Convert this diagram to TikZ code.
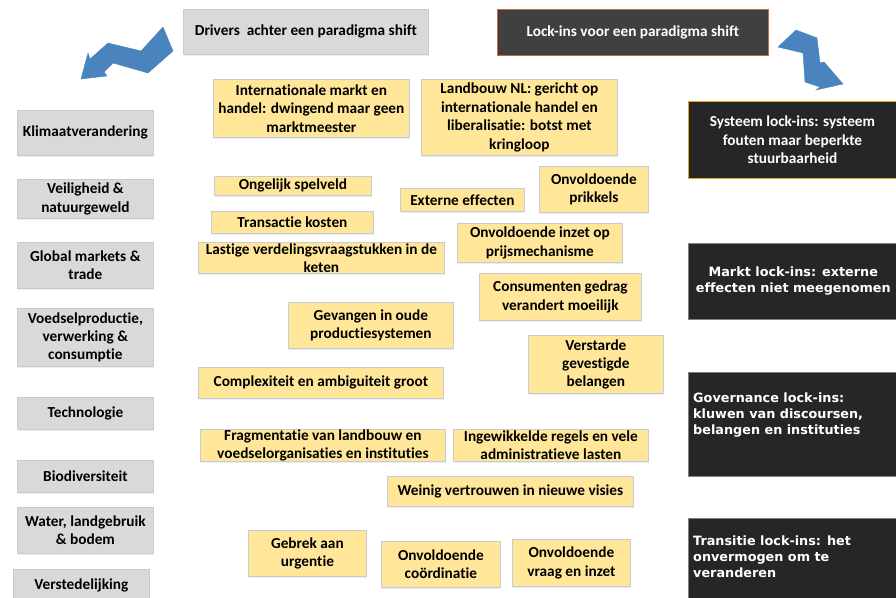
\documentclass[tikz,border=0pt]{standalone}
\usepackage{fontspec}
\setmainfont{Carlito}[Ligatures=NoCommon]
\newfontfamily\vfont{DejaVu Sans}[Ligatures=NoCommon]
\usetikzlibrary{shadows}
\definecolor{greyfill}{HTML}{D9D9D9}
\definecolor{yellowfill}{HTML}{FFE699}
\definecolor{boxline}{HTML}{C6CCD6}
\definecolor{headfill}{HTML}{404040}
\definecolor{headline}{HTML}{BF6F3C}
\definecolor{darkfill}{HTML}{262626}
\definecolor{darkline}{HTML}{808080}
\definecolor{goldline}{HTML}{E3A51C}
\definecolor{arrowblue}{HTML}{4A84BE}
\definecolor{shadowblue}{HTML}{D3DCEA}
\begin{document}
\begin{tikzpicture}[x=1pt,y=-1pt,
    lightbox/.style={draw=boxline, line width=0.8pt, anchor=north west, align=center, inner sep=0pt,
        drop shadow={shadow xshift=0.6pt, shadow yshift=-1.6pt, fill=shadowblue},
        font=\fontsize{15.3}{18.4}\selectfont\bfseries},
    greybox/.style={lightbox, fill=greyfill},
    yellowbox/.style={lightbox, fill=yellowfill},
    darkbox/.style={fill=darkfill, draw=darkline, line width=0.6pt, anchor=north west, align=center, inner sep=0pt,
        text=white, font=\fontsize{12.8}{16}\vfont\bfseries},
    darktext/.style={anchor=north west, align=left, inner sep=0pt, text=white, font=\fontsize{12.8}{16}\vfont\bfseries},
    blockarrow/.style={fill=arrowblue, draw=arrowblue, line width=0.4pt, line join=miter}]
    \useasboundingbox (0,0) rectangle (896,597);
    \clip (0,0) rectangle (896,597);
    %headers
    \node[greybox, minimum width=245, minimum height=45] (drivers) at (183,9) {Drivers\ \ achter een paradigma shift};
    \node[darkbox, fill=headfill, draw=headline, line width=0.8pt, font=\fontsize{15.3}{18.4}\selectfont\bfseries,
        minimum width=271, minimum height=46] (lockhead) at (497,9) {Lock-ins voor een paradigma shift};
    %arrows
    \fill[blockarrow] (81,79) -- (88,53) -- (90,59) -- (108,43) -- (141,51) -- (163,27) -- (173,51)
        -- (148,73) -- (113,63) -- (104,72) -- (107,76) -- cycle;
    \fill[blockarrow] (796,30) -- (817,38) -- (820,63) -- (824,62) -- (843,84) -- (816,90) -- (820,87)
        -- (805,82) -- (803,53) -- (778,47) -- cycle;
    %drivers
    \node[greybox, minimum width=136, minimum height=45] (klimaat) at (17,110) {Klimaatverandering};
    \node[greybox, minimum width=136, minimum height=39] (veiligheid) at (17,179) {Veiligheid \&\\natuurgeweld};
    \node[greybox, minimum width=136, minimum height=46] (global) at (17,242) {Global markets \&\\trade};
    \node[greybox, minimum width=136, minimum height=58] (voedsel) at (17,308) {Voedselproductie,\\verwerking \&\\consumptie};
    \node[greybox, minimum width=136, minimum height=32] (techno) at (17,397) {Technologie};
    \node[greybox, minimum width=136, minimum height=32] (biodiv) at (17,460) {Biodiversiteit};
    \node[greybox, minimum width=136, minimum height=46] (water) at (17,507) {Water, landgebruik\\\& bodem};
    \node[greybox, minimum width=136, minimum height=32] (stad) at (13,569) {Verstedelijking};
    %obstacles
    \node[yellowbox, minimum width=196, minimum height=58] (intmarkt) at (213,79) {Internationale markt en\\handel: dwingend maar geen\\marktmeester};
    \node[yellowbox, minimum width=196, minimum height=76] (landbouw) at (421,79) {Landbouw NL: gericht op\\internationale handel en\\liberalisatie: botst met\\kringloop};
    \node[yellowbox, minimum width=157, minimum height=19] (spelveld) at (214,176) {Ongelijk spelveld};
    \node[yellowbox, minimum width=124, minimum height=23] (extern) at (400,188) {Externe effecten};
    \node[yellowbox, minimum width=109, minimum height=46] (prikkels) at (539,166) {Onvoldoende\\prikkels};
    \node[yellowbox, minimum width=162, minimum height=22] (transactie) at (211,211) {Transactie kosten};
    \node[yellowbox, minimum width=246, minimum height=31] (verdeling) at (198,242) {Lastige verdelingsvraagstukken in de\\keten};
    \node[yellowbox, minimum width=165, minimum height=39] (prijs) at (457,223) {Onvoldoende inzet op\\prijsmechanisme};
    \node[yellowbox, minimum width=162, minimum height=47] (consument) at (479,273) {Consumenten gedrag\\verandert moeilijk};
    \node[yellowbox, minimum width=165, minimum height=46] (gevangen) at (288,302) {Gevangen in oude\\productiesystemen};
    \node[yellowbox, minimum width=135, minimum height=58] (verstard) at (528,335) {Verstarde\\gevestigde\\belangen};
    \node[yellowbox, minimum width=245, minimum height=31] (complex) at (198,367) {Complexiteit en ambiguiteit groot};
    \node[yellowbox, minimum width=245, minimum height=32] (fragment) at (200,429) {Fragmentatie van landbouw en\\voedselorganisaties en instituties};
    \node[yellowbox, minimum width=195, minimum height=32] (regels) at (453,429) {Ingewikkelde regels en vele\\administratieve lasten};
    \node[yellowbox, minimum width=246, minimum height=30] (vertrouwen) at (387,476) {Weinig vertrouwen in nieuwe visies};
    \node[yellowbox, minimum width=118, minimum height=46] (urgentie) at (248,530) {Gebrek aan\\urgentie};
    \node[yellowbox, minimum width=119, minimum height=46] (coordinatie) at (381,541) {Onvoldoende\\coördinatie};
    \node[yellowbox, minimum width=118, minimum height=47] (vraag) at (512,539) {Onvoldoende\\vraag en inzet};
    %lock-ins
    \node[darkbox, draw=goldline, line width=0.9pt, font=\fontsize{15.3}{18.4}\selectfont\bfseries,
        minimum width=208, minimum height=77] (systeem) at (688,101) {Systeem lock-ins: systeem\\fouten maar beperkte\\stuurbaarheid};
    \node[darkbox, minimum width=210, minimum height=76] (markt) at (688,243) {Markt lock-ins: externe\\effecten niet meegenomen};
    \node[darkbox, minimum width=210, minimum height=104] (governance) at (688,372) {};
    \node[darktext] (govtext) at (693,393) {Governance lock-ins:\\kluwen van discoursen,\\belangen en instituties};
    \node[darkbox, minimum width=210, minimum height=90] (transitie) at (688,518) {};
    \node[darktext] (transtext) at (693,536) {Transitie lock-ins: het\\onvermogen om te\\veranderen};
\end{tikzpicture}
\end{document}
